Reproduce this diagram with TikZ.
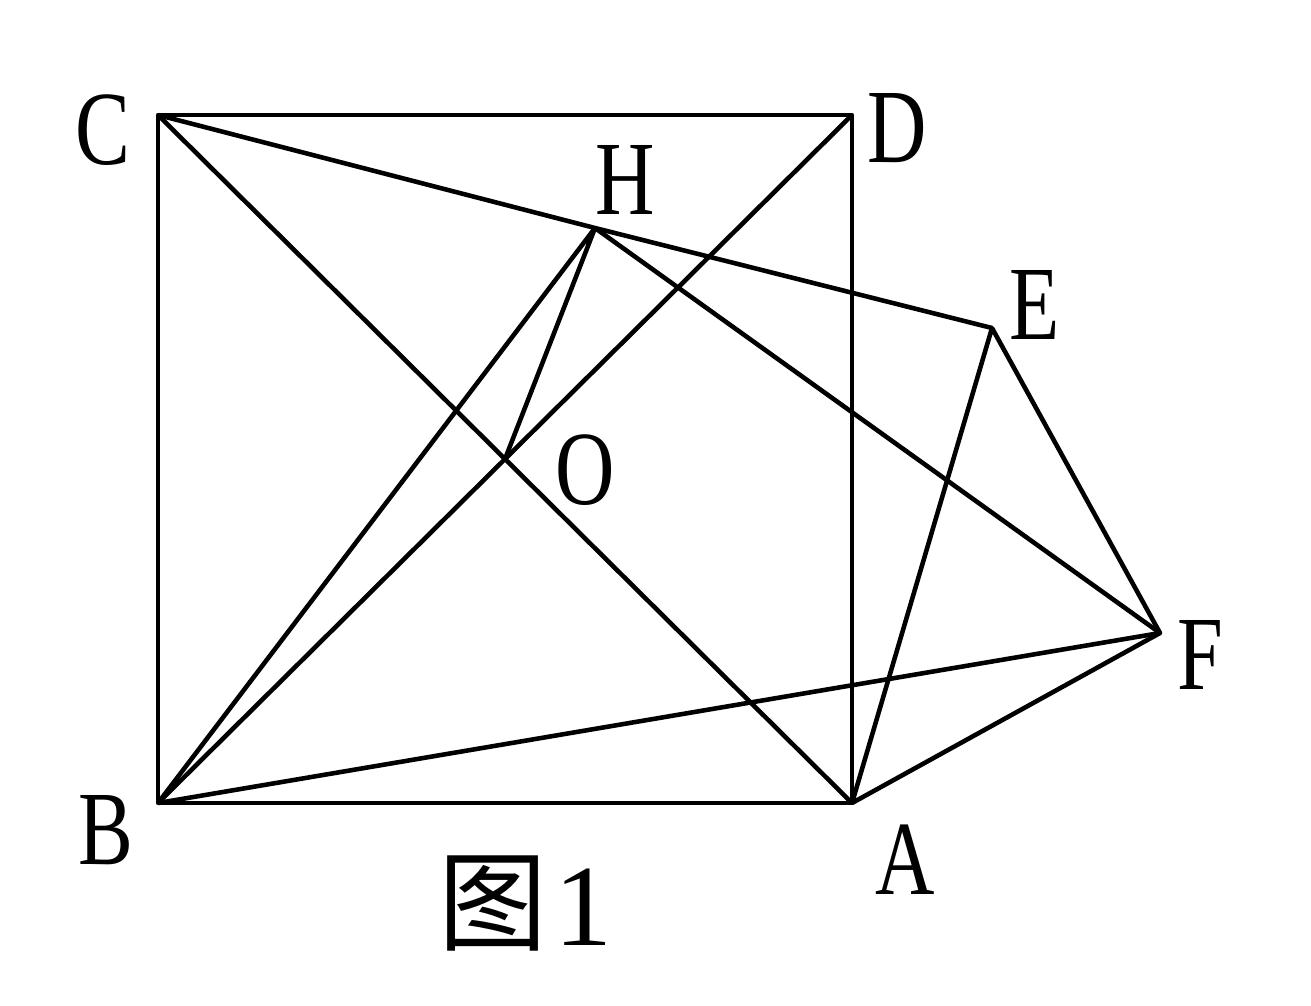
\documentclass[tikz,border=0pt]{standalone}
\usepackage{fontspec}
\setmainfont{Liberation Serif}
\newfontfamily\cjk{Noto Sans CJK SC}
\usepackage{tikz}

\begin{document}
\begin{tikzpicture}[x=0.02cm,y=-0.02cm,line width=2.6pt,line join=round,
    lab/.style={inner sep=0pt,font=\fontsize{60}{62}\selectfont,xscale=0.78}]
    \useasboundingbox (0,0) rectangle (1311,1005);
    \coordinate (C) at (158,115);
    \coordinate (D) at (852,115);
    \coordinate (B) at (158,803);
    \coordinate (A) at (852,803);
    \coordinate (O) at (505,459);
    \coordinate (H) at (595,228);
    \coordinate (E) at (992,328);
    \coordinate (F) at (1160,633);
    % square and diagonals
    \draw (C) -- (D) -- (A) -- (B) -- cycle;
    \draw (C) -- (A);
    \draw (B) -- (D);
    % other segments
    \draw (C) -- (H) -- (E);
    \draw (B) -- (H) -- (O);
    \draw (H) -- (F);
    \draw (B) -- (F);
    \draw (A) -- (E) -- (F) -- (A);
    % labels
    \node[lab] (lC) at (103,130) {C};
    \node[lab] (lD) at (897,128) {D};
    \node[lab] (lH) at (625,180) {H};
    \node[lab] (lE) at (1035,305) {E};
    \node[lab] (lO) at (585,470) {O};
    \node[lab] (lF) at (1200,655) {F};
    \node[lab] (lB) at (106,830) {B};
    \node[lab] (lA) at (905,860) {A};
    \node[inner sep=0pt,font=\fontsize{62}{66}\selectfont\cjk] (cap) at (493,903) {图};
    \node[inner sep=0pt,font=\fontsize{66}{70}\selectfont] (num) at (583,907) {1};
\end{tikzpicture}
\end{document}
